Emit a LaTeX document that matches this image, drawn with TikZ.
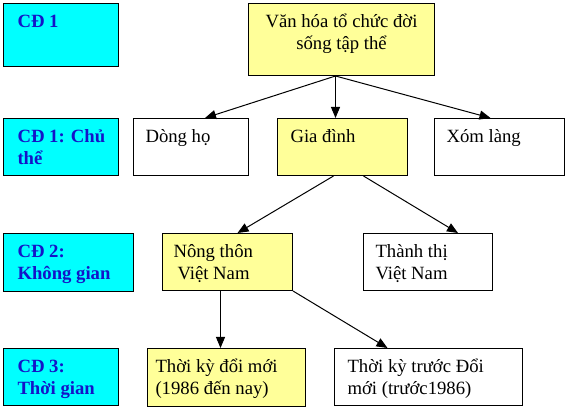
\documentclass[tikz,border=0pt]{standalone}
\usepackage{fontspec}
\setmainfont{Liberation Serif}
\usetikzlibrary{arrows.meta}
\definecolor{litecyan}{RGB}{0,255,255}
\definecolor{liteyellow}{RGB}{255,255,153}
\definecolor{labelblue}{RGB}{20,20,200}
\tikzstyle{cell}=[draw, line width=1pt, anchor=north west, inner sep=0pt, font=\fontsize{18.7}{21.5}\selectfont]
\tikzstyle{topic}=[cell, fill=litecyan, text=labelblue, font=\fontsize{18.7}{21.5}\selectfont\bfseries]
\tikzstyle{hl}=[cell, fill=liteyellow]
\tikzstyle{plain}=[cell, fill=white]
\tikzstyle{link}=[line width=1pt, -{Triangle[length=11pt,width=9pt]}]
\newcommand{\celltext}[4][12pt]{\parbox[t][#3][t]{#2}{\leftskip=#1\vspace*{9pt}\strut#4}}

\begin{document}
\begin{tikzpicture}[x=1pt, y=-1pt]
        \useasboundingbox (0,0) rectangle (571,411);
        \node[topic] (cd0) at (3,3) {\celltext[14pt]{115pt}{63pt}{CĐ 1}};
        \node[hl] (root) at (248,3) {\parbox[t][72pt][t]{186pt}{\centering\vspace*{9pt}\strut Văn hóa tổ chức đời\\ sống tập thể}};
        \node[topic] (cd1) at (3,118) {\celltext[14pt]{115pt}{57pt}{CĐ 1: Chủ\\thể}};
        \node[plain] (dongho) at (133,118) {\celltext{115pt}{57pt}{Dòng họ}};
        \node[hl] (giadinh) at (277,118) {\celltext[13pt]{130pt}{57pt}{Gia đình}};
        \node[plain] (xomlang) at (434,118) {\celltext{130pt}{57pt}{Xóm làng}};
        \node[topic] (cd2) at (3,233) {\celltext[14pt]{130pt}{58pt}{CĐ 2:\\Không gian}};
        \node[hl] (nongthon) at (162,233) {\celltext[11pt]{130pt}{57pt}{Nông thôn\\\hspace*{4pt}Việt Nam}};
        \node[plain] (thanhthi) at (363,233) {\celltext{129pt}{57pt}{Thành thị\\Việt Nam}};
        \node[topic] (cd3) at (3,348) {\celltext[14pt]{115pt}{57pt}{CĐ 3:\\Thời gian}};
        \node[hl] (doimoi) at (147,348) {\celltext[8pt]{158pt}{58pt}{Thời kỳ đổi mới\\(1986 đến nay)}};
        \node[plain] (truoc) at (334,348) {\celltext[13pt]{188pt}{57pt}{Thời kỳ trước Đổi\\mới (trước1986)}};
        \coordinate (fork) at ([xshift=-6pt]root.south);
        \draw[link] (fork) -- ([xshift=14pt]dongho.north);
        \draw[link] (fork) -- ([xshift=-7pt]giadinh.north);
        \draw[link] (fork) -- ([xshift=-9pt]xomlang.north);
        \draw[link] ([xshift=-9pt]giadinh.south) -- ([xshift=10pt]nongthon.north);
        \draw[link] ([xshift=21pt]giadinh.south) -- ([xshift=30pt]thanhthi.north);
        \draw[link] ([xshift=-7pt]nongthon.south) -- ([xshift=-6pt]doimoi.north);
        \draw[link] (nongthon.south east) -- ([xshift=-41pt]truoc.north);
\end{tikzpicture}
\end{document}
